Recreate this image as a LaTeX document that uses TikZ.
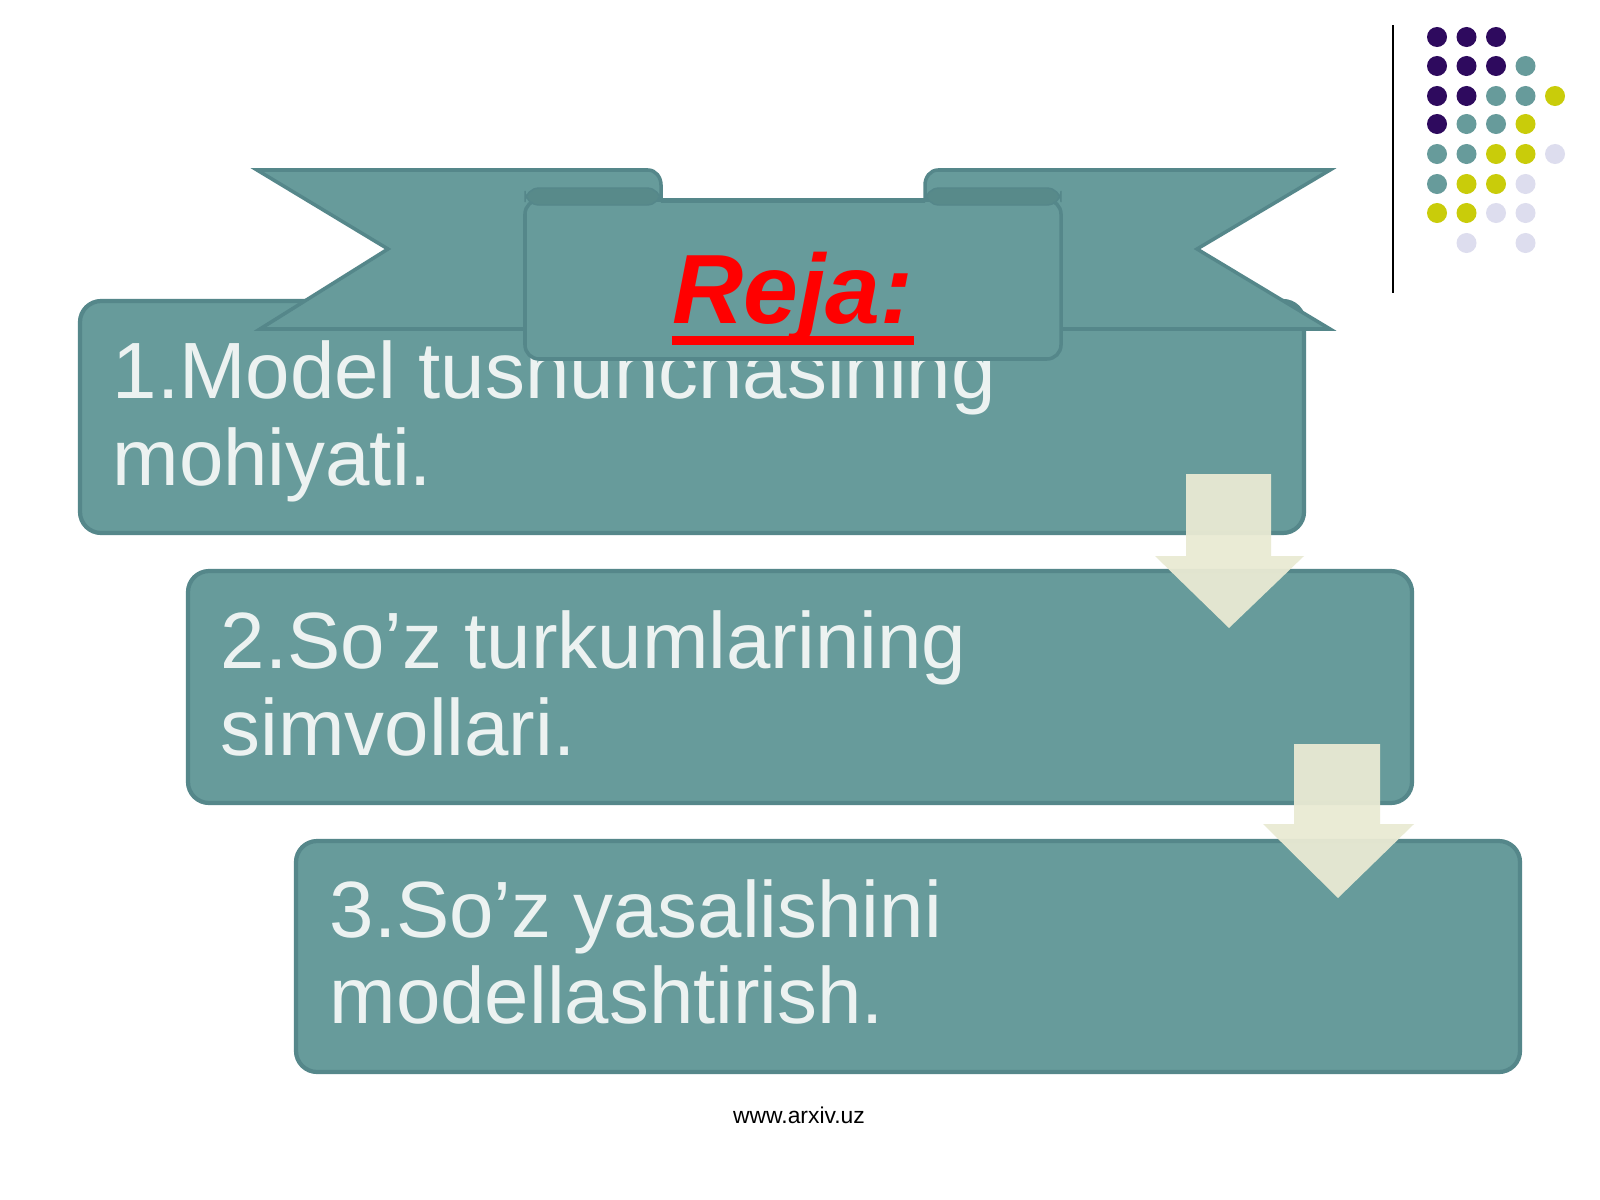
\documentclass[tikz,border=0pt]{standalone}
\usepackage{fontspec}
\setmainfont{Liberation Sans}
\definecolor{teal1}{HTML}{679B9B}
\definecolor{tealD}{HTML}{55878A}
\definecolor{tealR}{HTML}{588A8A}
\definecolor{pur}{HTML}{2E0A5E}
\definecolor{yel}{HTML}{C9CC0A}
\definecolor{lav}{HTML}{DDDDEE}
\definecolor{txt}{HTML}{ECF2F1}
\definecolor{arr}{HTML}{E9EAD3}
\begin{document}
\begin{tikzpicture}[x=0.01cm,y=-0.01cm,
  box/.style={draw=tealD,line width=1.2pt,fill=teal1,rounded corners=6pt},
  rib/.style={draw=tealD,line width=1pt,fill=teal1},
  item/.style={anchor=base west,text=txt,font=\fontsize{22.7}{27}\selectfont,inner sep=0pt},
  dot/.style={circle,inner sep=0pt,minimum size=0.2cm},
  dn/.style={fill=arr,draw=none,opacity=0.95}]
\useasboundingbox (0,0) rectangle (1600,1200);
\fill[white] (0,0) rectangle (1600,1200);
% box 1
\draw[box] (80,301) rectangle (1304,533);
\node[item] (t1a) at (112,398) {1.Model tushunchasining};
\node[item] (t1b) at (112,485) {mohiyati.};
% ribbon
\draw[rib] (257,170) -- (648,170) to[out=0,in=90] (661,185) -- (661,329) -- (260,329) -- (388,249) -- cycle;
\draw[rib] (1330,170) -- (938,170) to[out=180,in=90] (925,185) -- (925,329) -- (1330,329) -- (1197,249) -- cycle;
\draw[rib,rounded corners=4pt] (525,200) rectangle (1061,359);
\draw[draw=tealD,fill=tealR,rounded corners=4pt] (525,188) rectangle (661,205);
\draw[draw=tealD,fill=tealR,rounded corners=4pt] (925,188) rectangle (1061,205);
\draw[tealD,line width=1pt] (661,201) -- (925,201);
\node[text=red,inner sep=0pt,anchor=base,font=\fontsize{28}{32}\selectfont\bfseries\itshape] (reja) at (793,323) {Reja:};
\draw[red,line width=2.5pt] ([yshift=-5pt]reja.base west) -- ([yshift=-5pt]reja.base east);
% box 2
\draw[box] (188,571) rectangle (1412,803);
\node[item] (t2a) at (220,668) {2.So’z turkumlarining};
\node[item] (t2b) at (220,755) {simvollari.};
% box 3
\draw[box] (296,841) rectangle (1520,1072);
\node[item] (t3a) at (329,937) {3.So’z yasalishini};
\node[item] (t3b) at (329,1023) {modellashtirish.};
% arrows
\fill[dn] (1186,474) -- (1271,474) -- (1271,556) -- (1304,556) -- (1229,628) -- (1155,556) -- (1186,556) -- cycle;
\fill[dn] (1294,744) -- (1380,744) -- (1380,824) -- (1414,824) -- (1338,898) -- (1263,824) -- (1294,824) -- cycle;
% footer
\node[font=\fontsize{6.5}{8}\selectfont] (foot) at (799,1115) {www.arxiv.uz};
% decoration
\draw[black,line width=0.7pt] (1393,25) -- (1393,293);
\foreach \r/\row in {37/{pur,pur,pur},66/{pur,pur,pur,teal1},96/{pur,pur,teal1,teal1,yel},124/{pur,teal1,teal1,yel},154/{teal1,teal1,yel,yel,lav},184/{teal1,yel,yel,lav},213/{yel,yel,lav,lav},243/{none,lav,none,lav}}{
  \foreach \c [count=\i] in \row {
    \pgfmathsetmacro{\xx}{1437+29.5*(\i-1)}
    \node[dot,fill=\c] at (\xx,\r) {};
  }
}
\end{tikzpicture}
\end{document}
